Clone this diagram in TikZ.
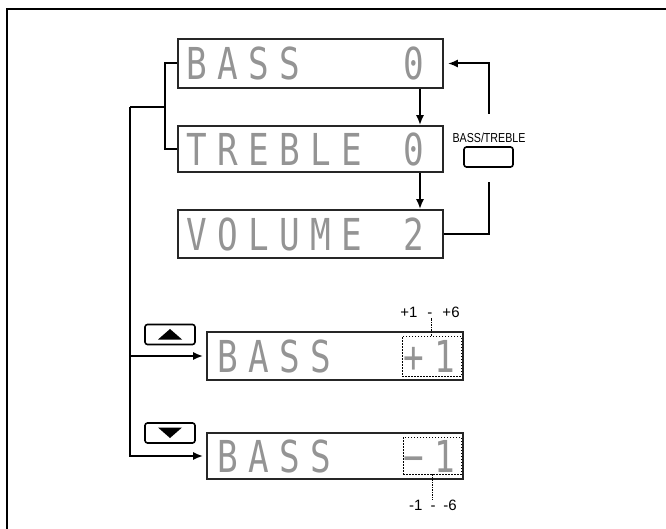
\documentclass[tikz,border=0pt]{standalone}
\usepackage{fontspec}
\setmainfont{Liberation Sans}
\newfontfamily\lcd{DejaVu Sans Mono}
\usetikzlibrary{arrows.meta}
\newcommand\lc[1]{\makebox[31pt][l]{\scalebox{0.78}[1]{#1}}}
\begin{document}
\begin{tikzpicture}[x=1pt,y=-1pt,
  disp/.style={draw, line width=1.6pt, draw=black!85, minimum width=265pt, minimum height=48pt, inner sep=0pt,
    font=\lcd\fontsize{44}{44}\selectfont, text=black!42},
  conn/.style={line width=2pt},
  arr/.style={conn, -{Latex[length=10pt,width=8pt]}},
  btn/.style={draw, line width=1.6pt, rounded corners=2.5pt, minimum width=50pt, minimum height=20pt, inner sep=0pt},
  rng/.style={draw, line width=0.8pt, dash pattern=on 1.5pt off 1.5pt, inner sep=0pt},
  tick/.style={line width=0.8pt, dash pattern=on 1.5pt off 1pt},
  lbl/.style={font=\fontsize{15}{15}\selectfont, inner sep=0pt}]

\useasboundingbox (0,0) rectangle (666,529);
\draw[line width=1.5pt] (7,529) -- (7,9) -- (666,9);

% displays
\node[disp, minimum height=49pt] (bass) at (310.5,63.5) {\lc{B}\lc{A}\lc{S}\lc{S}\lc{}\lc{}\lc{}\lc{0}};
\node[disp, minimum height=46pt] (treble) at (310.5,149) {\lc{T}\lc{R}\lc{E}\lc{B}\lc{L}\lc{E}\lc{}\lc{0}};
\node[disp, minimum height=48pt] (vol) at (310.5,234) {\lc{V}\lc{O}\lc{L}\lc{U}\lc{M}\lc{E}\lc{}\lc{2}};
\node[disp, minimum width=256pt, minimum height=48pt] (plus) at (335,356) {\hspace{5pt}\lc{B}\lc{A}\lc{S}\lc{S}\lc{}\lc{}\lc{+}\makebox[24pt][l]{\scalebox{0.78}[1]{1}}};
\node[disp, minimum width=256pt, minimum height=46pt] (minus) at (335,456) {\hspace{5pt}\lc{B}\lc{A}\lc{S}\lc{S}\lc{}\lc{}\lc{−}\makebox[24pt][l]{\scalebox{0.78}[1]{1}}};

% cycle arrows
\draw[arr] ([xshift=109.5pt]bass.south) -- ([xshift=109.5pt]treble.north);
\draw[arr] ([xshift=109.5pt]treble.south) -- ([xshift=109.5pt]vol.north);

% BASS/TREBLE button and loop
\node[font=\fontsize{13}{13}\selectfont, inner sep=0pt] (btlbl) at (489,137.5) {\scalebox{0.82}[1]{BASS/TREBLE}};
\node[btn, minimum width=49pt] (btbtn) at (488.5,157) {};
\coordinate (r1) at (489,182);
\coordinate (r2) at (489,114);
\draw[conn] (vol.east) -| (r1);
\draw[arr, shorten >=4pt] (r2) |- (bass.east);

% left bracket
\coordinate (bk) at (165,107);
\coordinate (sp) at (130,107);
\draw[conn] (bass.west) -| (bk) |- (treble.west);
\draw[conn] (bk) -- (sp);
\draw[arr, shorten >=3pt] (sp) |- (plus.west);
\draw[arr, shorten >=3pt] (sp) |- (minus.west);

% up / down buttons
\node[btn] (up) at (170,334.5) {};
\fill (158,339.5) -- (182,339.5) -- (170,329) -- cycle;
\node[btn] (down) at (170,433) {};
\fill (158,427.5) -- (182,427.5) -- (170,438) -- cycle;

% ranges
\node[rng, minimum width=59pt, minimum height=40pt] (rp) at (431.5,356) {};
\node[rng, minimum width=58pt, minimum height=37pt] (rm) at (432,455.5) {};
\node[lbl] (lp) at (430,312) {+1\hspace{10pt}-\hspace{10pt}+6};
\node[lbl] (lm) at (433,505) {-1\hspace{8pt}-\hspace{8pt}-6};
\draw[tick] (rp.north) -- (rp.north |- lp.south);
\draw[tick] (rm.south) -- (rm.south |- lm.north);
\end{tikzpicture}
\end{document}
